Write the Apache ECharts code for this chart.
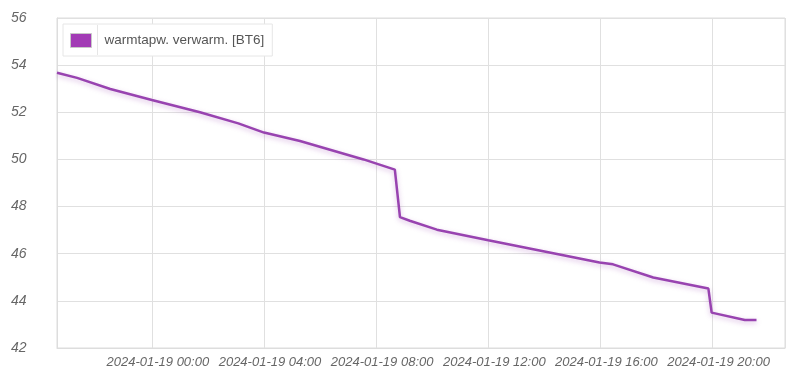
<!DOCTYPE html>
<html>
<head>
<meta charset="utf-8">
<script src="https://cdn.jsdelivr.net/npm/echarts@6/dist/echarts.min.js"></script>
<style>
html,body{margin:0;padding:0;background:#fff;}
#chart{width:800px;height:373px;}
</style>
</head>
<body>
<div id="chart"></div>
<script>
var seriesName = 'warmtapw. verwarm. [BT6]';
var times = [
  '2024-01-18 20:37', '2024-01-18 21:20', '2024-01-18 22:31', '2024-01-19 00:00',
  '2024-01-19 01:43', '2024-01-19 03:05', '2024-01-19 04:00', '2024-01-19 05:17',
  '2024-01-19 07:33', '2024-01-19 08:40', '2024-01-19 08:51', '2024-01-19 09:12',
  '2024-01-19 10:10', '2024-01-19 12:00', '2024-01-19 15:58', '2024-01-19 16:27',
  '2024-01-19 17:53', '2024-01-19 19:51', '2024-01-19 19:58', '2024-01-19 21:09',
  '2024-01-19 21:34'
];
var values = [
  53.68, 53.46, 52.99, 52.52,
  52.0, 51.53, 51.14, 50.78,
  50.0, 49.57, 47.55, 47.4,
  47.02, 46.57, 45.63, 45.55,
  44.99, 44.52, 43.5, 43.19,
  43.19
];
var xMin = '2024-01-18 20:37';
var xMax = '2024-01-19 22:35';
var yMin = 42, yMax = 56, yStep = 2;

function parseT(s){
  var p = s.split(/[- :]/).map(Number);
  return new Date(p[0], p[1]-1, p[2], p[3], p[4]).getTime();
}
var data = times.map(function(t,i){ return [parseT(t), values[i]]; });

var chart = echarts.init(document.getElementById('chart'), null, {renderer:'canvas'});
var lineColor = '#9843b0';
chart.setOption({
  animation:false,
  backgroundColor:'#fff',
  textStyle:{fontFamily:'"Liberation Sans", Arial, sans-serif'},
  grid:{left:57, right:15, top:18, bottom:25, show:true, borderColor:'#dddddd', borderWidth:1, backgroundColor:'transparent'},
  legend:{
    left:63, top:24,
    padding:[9,8,8,7],
    backgroundColor:'#fff',
    borderColor:'#e6e6e6', borderWidth:1,
    icon:'rect', itemWidth:21, itemHeight:14,
    itemStyle:{color:'#a23bb5', borderColor:'#c8c8c8', borderWidth:1},
    textStyle:{color:'#555', fontSize:13.5, padding:[0,0,0,8], fontFamily:'"Liberation Sans", Arial, sans-serif'},
    data:[seriesName]
  },
  graphic:[{
    type:'line', z:100,
    shape:{x1:97.5, y1:25, x2:97.5, y2:55},
    style:{stroke:'#e6e6e6', lineWidth:1}
  }],
  xAxis:{
    type:'time',
    min:parseT(xMin), max:parseT(xMax),
    minInterval:4*3600*1000, maxInterval:4*3600*1000,
    axisLine:{show:true, lineStyle:{color:'#dddddd'}},
    axisTick:{show:false},
    splitLine:{show:true, lineStyle:{color:'#e0e0e0', width:1}},
    axisLabel:{
      formatter:'{yyyy}-{MM}-{dd} {HH}:{mm}',
      color:'#666', fontSize:13, fontStyle:'italic', margin:8,
      padding:[0,0,0,12],
      showMinLabel:false, showMaxLabel:false,
      hideOverlap:false
    }
  },
  yAxis:{
    type:'value', min:yMin, max:yMax, interval:yStep,
    axisLine:{show:true, lineStyle:{color:'#dddddd'}},
    axisTick:{show:false},
    splitLine:{show:true, lineStyle:{color:'#e0e0e0', width:1}},
    axisLabel:{color:'#666', fontSize:14, fontStyle:'italic', align:'left', margin:46}
  },
  series:[{
    name:seriesName,
    type:'line',
    data:data,
    showSymbol:false,
    symbol:'none',
    color:lineColor,
    lineStyle:{color:lineColor, width:2.5, shadowColor:'rgba(152,67,176,0.35)', shadowBlur:5, shadowOffsetY:2},
    itemStyle:{color:'#a23bb5'}
  }]
});
</script>
</body>
</html>
